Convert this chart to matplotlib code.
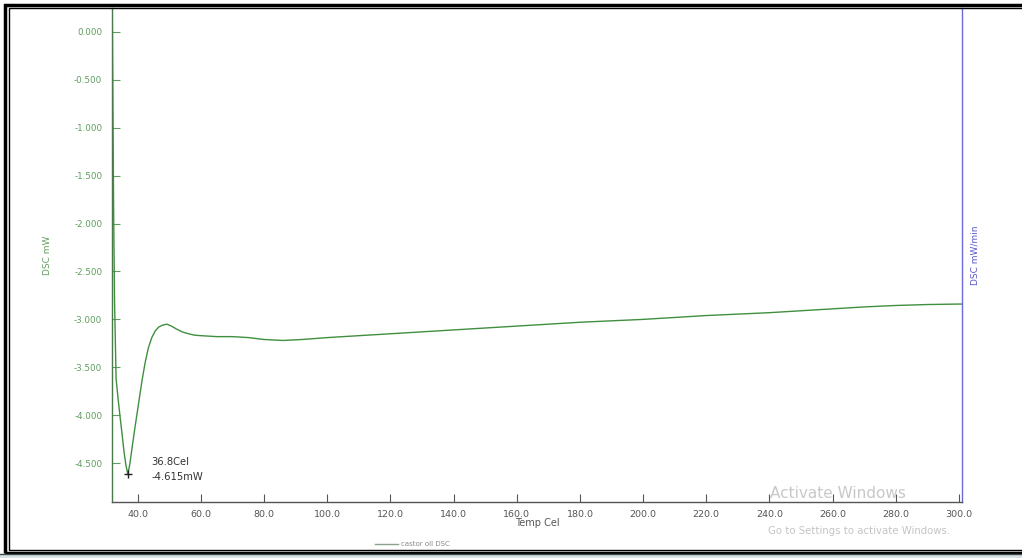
import matplotlib
matplotlib.use("Agg")
import matplotlib.pyplot as plt
from matplotlib.patches import Rectangle
from matplotlib.lines import Line2D

# ---- data ----
temp_cel = [31.9, 32.1, 32.3, 32.6, 33.1, 33.7, 34.3, 35.0, 35.6, 36.2, 36.8,
            37.4, 38.2, 39.2, 40.3, 41.3, 42.3, 43.3, 44.4, 45.5, 46.6, 47.8,
            49.2, 50.6, 52.2, 54.0, 56.0, 58.0, 60.0, 65.0, 70.0, 75.0, 80.0,
            86.0, 92.0, 100.0, 120.0, 140.0, 160.0, 180.0, 200.0, 220.0,
            240.0, 260.0, 270.0, 280.0, 290.0, 300.0, 301.0]
dsc_mw = [0.20, -0.80, -1.80, -2.80, -3.62, -3.82, -4.00, -4.20, -4.38, -4.52, -4.615,
          -4.52, -4.33, -4.10, -3.86, -3.64, -3.45, -3.30, -3.19, -3.12, -3.08, -3.06,
          -3.05, -3.07, -3.10, -3.13, -3.15, -3.165, -3.17, -3.18, -3.18, -3.19, -3.21,
          -3.22, -3.21, -3.19, -3.15, -3.11, -3.07, -3.03, -3.00, -2.96,
          -2.93, -2.89, -2.87, -2.855, -2.845, -2.84, -2.84]

x_ticks = [40.0, 60.0, 80.0, 100.0, 120.0, 140.0, 160.0, 180.0, 200.0,
           220.0, 240.0, 260.0, 280.0, 300.0]
y_ticks = [0.0, -0.5, -1.0, -1.5, -2.0, -2.5, -3.0, -3.5, -4.0, -4.5]

peak_temp = 36.8
peak_val = -4.615
peak_label = "36.8Cel\n-4.615mW"
series_name = "castor oil DSC"

W, H = 1022, 558
fig = plt.figure(figsize=(W / 100, H / 100), dpi=100)
fig.patch.set_facecolor("white")

ax = fig.add_axes([112 / W, 1 - 502 / H, (962 - 112) / W, (502 - 8) / H])
ax.plot(temp_cel, dsc_mw, color="#3f8f3f", lw=1.0)
ax.plot([peak_temp], [peak_val], marker="+", color="#222222", ms=6, mew=1.0)
ax.text(peak_temp + 7.4, peak_val + 0.05, peak_label, fontsize=7.2,
        color="#333333", va="center", ha="left", linespacing=1.6)

ax.set_xlim(31.8, 301.0)
ax.set_ylim(-4.906, 0.25)
ax.set_xticks(x_ticks)
ax.set_xticklabels([f"{v:.1f}" for v in x_ticks], fontsize=6.8, color="#555555")
ax.set_yticks(y_ticks)
ax.set_yticklabels([f"{v:.3f}" for v in y_ticks], fontsize=6.3, color="#5f9f5f")
ax.tick_params(axis="both", direction="in", length=6, width=0.8)
ax.tick_params(axis="y", colors="#5f9f5f", pad=7)
ax.tick_params(axis="x", colors="#555555", pad=6)
for lab in ax.get_yticklabels():
    lab.set_color("#5f9f5f")
for lab in ax.get_xticklabels():
    lab.set_color("#555555")

ax.spines["top"].set_visible(False)
ax.spines["left"].set_color("#4a7a4a")
ax.spines["bottom"].set_color("#555555")
ax.spines["right"].set_color("#6a6ad8")
for s in ax.spines.values():
    s.set_linewidth(1.0)

ax.set_xlabel("Temp Cel", fontsize=7, color="#555555", labelpad=-1)
ax.set_ylabel("DSC mW", fontsize=6.5, color="#5f9f5f")
ax.yaxis.set_label_coords((52 - 112) / 850, 0.5)

fig.text(975 / W, 1 - 255 / H, "DSC mW/min", rotation=90, fontsize=6.5,
         color="#5555cc", ha="center", va="center")

# legend entry at the bottom
fig.add_artist(Line2D([375 / W, 398 / W], [1 - 544 / H, 1 - 544 / H],
                      color="#8aa08a", lw=1.0))
fig.text(401 / W, 1 - 544 / H, series_name, fontsize=5, color="#888888",
         ha="left", va="center")

# screenshot watermark
fig.text(770 / W, 1 - 494 / H, "Activate Windows", fontsize=11, color="#c8c8c8",
         ha="left", va="center")
fig.text(768 / W, 1 - 531 / H, "Go to Settings to activate Windows.", fontsize=7.3,
         color="#c4c4c4", ha="left", va="center", zorder=0)

# window frame
fig.add_artist(Rectangle((4.5 / W, 1 - 553 / H), 1.2, (553 - 4.5) / H,
                         transform=fig.transFigure, fill=False, ec="black", lw=2.5))
fig.add_artist(Rectangle((8.5 / W, 1 - 550 / H), 1.2, (550 - 8.0) / H,
                         transform=fig.transFigure, fill=False, ec="black", lw=1.0))
fig.add_artist(Rectangle((0, 0), 1, 4 / H, transform=fig.transFigure,
                         fc="#d8e2e2", ec="none"))
fig.add_artist(Line2D([0, 1], [4 / H, 4 / H], color="#3a4a4a", lw=1.0))

fig.savefig("out.png", dpi=100)
